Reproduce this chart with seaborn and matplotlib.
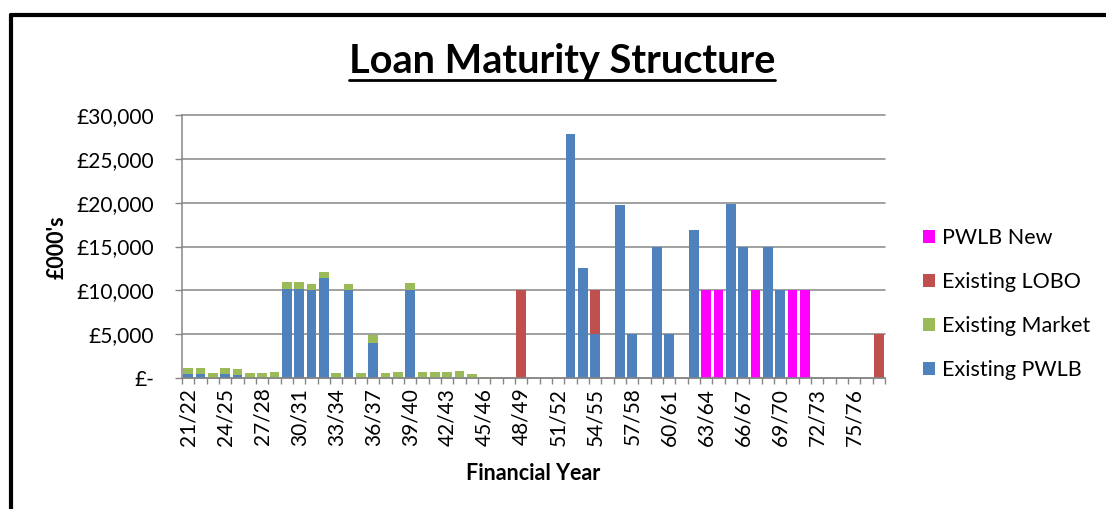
import numpy as np
import pandas as pd
import matplotlib.pyplot as plt
import seaborn as sns
from matplotlib.lines import Line2D
from matplotlib.patches import Patch
from matplotlib.ticker import FuncFormatter

# style
sns.set_theme(style="white")
plt.rcParams['font.family'] = ['Lato', 'DejaVu Sans']
plt.rcParams['text.color'] = 'black'
plt.rcParams['xtick.color'] = 'black'
plt.rcParams['ytick.color'] = 'black'

# data (£000's)
years = ["21/22", "22/23", "23/24", "24/25", "25/26", "26/27", "27/28", "28/29",
         "29/30", "30/31", "31/32", "32/33", "33/34", "34/35", "35/36", "36/37",
         "37/38", "38/39", "39/40", "40/41", "41/42", "42/43", "43/44", "44/45",
         "45/46", "46/47", "47/48", "48/49", "49/50", "50/51", "51/52", "52/53",
         "53/54", "54/55", "55/56", "56/57", "57/58", "58/59", "59/60", "60/61",
         "61/62", "62/63", "63/64", "64/65", "65/66", "66/67", "67/68", "68/69",
         "69/70", "70/71", "71/72", "72/73", "73/74", "74/75", "75/76", "76/77",
         "77/78"]

existing_pwlb = [460, 460, 0, 460, 350, 0, 0, 0,
                 10200, 10200, 10000, 11350, 0, 10000, 0, 4000,
                 0, 0, 10000, 0, 0, 0, 0, 0,
                 0, 0, 0, 0, 0, 0, 0, 27800,
                 12600, 5000, 0, 19700, 5000, 0, 15000, 5000,
                 0, 16900, 0, 0, 19900, 15000, 0, 15000,
                 10000, 0, 0, 0, 0, 0, 0, 0,
                 0]

existing_market = [690, 730, 540, 730, 730, 540, 540, 730,
                   700, 700, 730, 770, 615, 770, 615, 885,
                   615, 690, 800, 730, 730, 730, 770, 500,
                   80, 0, 0, 0, 0, 0, 0, 0,
                   0, 0, 0, 0, 0, 0, 0, 0,
                   0, 0, 0, 0, 0, 0, 0, 0,
                   0, 0, 0, 0, 0, 0, 0, 0,
                   0]

existing_lobo = [0, 0, 0, 0, 0, 0, 0, 0,
                 0, 0, 0, 0, 0, 0, 0, 0,
                 0, 0, 0, 0, 0, 0, 0, 0,
                 0, 0, 0, 10000, 0, 0, 0, 0,
                 0, 5000, 0, 0, 0, 0, 0, 0,
                 0, 0, 0, 0, 0, 0, 0, 0,
                 0, 0, 0, 0, 0, 0, 0, 0,
                 5000]

pwlb_new = [0, 0, 0, 0, 0, 0, 0, 0,
            0, 0, 0, 0, 0, 0, 0, 0,
            0, 0, 0, 0, 0, 0, 0, 0,
            0, 0, 0, 0, 0, 0, 0, 0,
            0, 0, 0, 0, 0, 0, 0, 0,
            0, 0, 10000, 10000, 0, 0, 10000, 0,
            0, 10000, 10000, 0, 0, 0, 0, 0,
            0]

series_names = ["PWLB New", "Existing LOBO", "Existing Market", "Existing PWLB"]
series_colors = ["#FF00FF", "#C0504D", "#9BBB59", "#4F81BD"]

df = pd.DataFrame({
    "year": years,
    "Existing PWLB": existing_pwlb,
    "Existing Market": existing_market,
    "Existing LOBO": existing_lobo,
    "PWLB New": pwlb_new,
})
# cumulative stack heights, bottom layer = Existing PWLB
stack_order = ["Existing PWLB", "Existing Market", "Existing LOBO", "PWLB New"]
df[stack_order] = df[stack_order].cumsum(axis=1)

W, H = 1106, 509
fig = plt.figure(figsize=(W / 100, H / 100), dpi=100)
ax = fig.add_axes([182 / W, 1 - 378 / H, 703 / W, 263 / H])

grid_col = "#868686"

# draw tallest cumulative layer first, lower layers on top
for name, col in zip(series_names, series_colors):
    sns.barplot(data=df, x="year", y=name, order=years, color=col,
                saturation=1, width=0.76, errorbar=None, linewidth=0, ax=ax)

ax.set_xlim(-0.5, len(years) - 0.5)
ax.set_ylim(0, 30000)
ax.set_yticks(np.arange(0, 30001, 5000))
ax.yaxis.set_major_formatter(FuncFormatter(lambda v, p: "£-" if v == 0 else f"£{v:,.0f}"))
ax.set_axisbelow(True)
ax.yaxis.grid(True, color=grid_col, linewidth=1.1)
ax.xaxis.grid(False)
for gl in ax.get_ygridlines():
    gl.set_clip_on(False)

ax.set_xticks(range(0, len(years), 3))
ax.set_xticklabels(years[::3], rotation=90)
ax.set_xticks(np.arange(-0.5, len(years), 1), minor=True)
ax.tick_params(axis="x", which="major", length=0, pad=7, labelsize=15, labelcolor="black")
ax.tick_params(axis="x", which="minor", length=4, width=1, color=grid_col, direction="out", bottom=True)
ax.tick_params(axis="y", length=5, width=1, color=grid_col, direction="out", pad=15,
               labelsize=15, labelcolor="black", left=True)
ax.set_xlabel("")
ax.set_ylabel("")

for s in ["top", "right"]:
    ax.spines[s].set_visible(False)
for s in ["left", "bottom"]:
    ax.spines[s].set_color(grid_col)
    ax.spines[s].set_linewidth(1.1)

# titles
title = fig.text(562 / W, 1 - 62 / H, "Loan Maturity Structure", ha="center", va="center",
                 fontsize=28.5, fontweight="bold", color="black")
fig.text(57 / W, 1 - 247 / H, "£000's", rotation=90, ha="center", va="center",
         fontsize=15.5, fontweight="bold", color="black")
fig.text(533 / W, 1 - 474 / H, "Financial Year", ha="center", va="center",
         fontsize=15.5, fontweight="bold", color="black")

# legend
handles = [Patch(facecolor=c, edgecolor="none") for c in series_colors]
fig.legend(handles, series_names, loc="upper left", bbox_to_anchor=(923 / W, 1 - 228 / H),
           frameon=False, fontsize=15.5, handlelength=0.56, handleheight=0.56,
           handletextpad=0.3, labelspacing=1.12, borderpad=0, borderaxespad=0,
           labelcolor="black")

# underline for the title
fig.canvas.draw()
bb = title.get_window_extent()
y_ul = 1 - 80 / H
fig.add_artist(Line2D([bb.x0 / W, bb.x1 / W], [y_ul, y_ul], color="black", linewidth=2))

# chart border (left and top edges visible)
fig.add_artist(Line2D([11 / W, 1.0], [1 - 15 / H, 1 - 15 / H], color="black", linewidth=3))
fig.add_artist(Line2D([11 / W, 11 / W], [0, 1 - 15 / H], color="black", linewidth=3))

fig.savefig("out.png", dpi=100)
